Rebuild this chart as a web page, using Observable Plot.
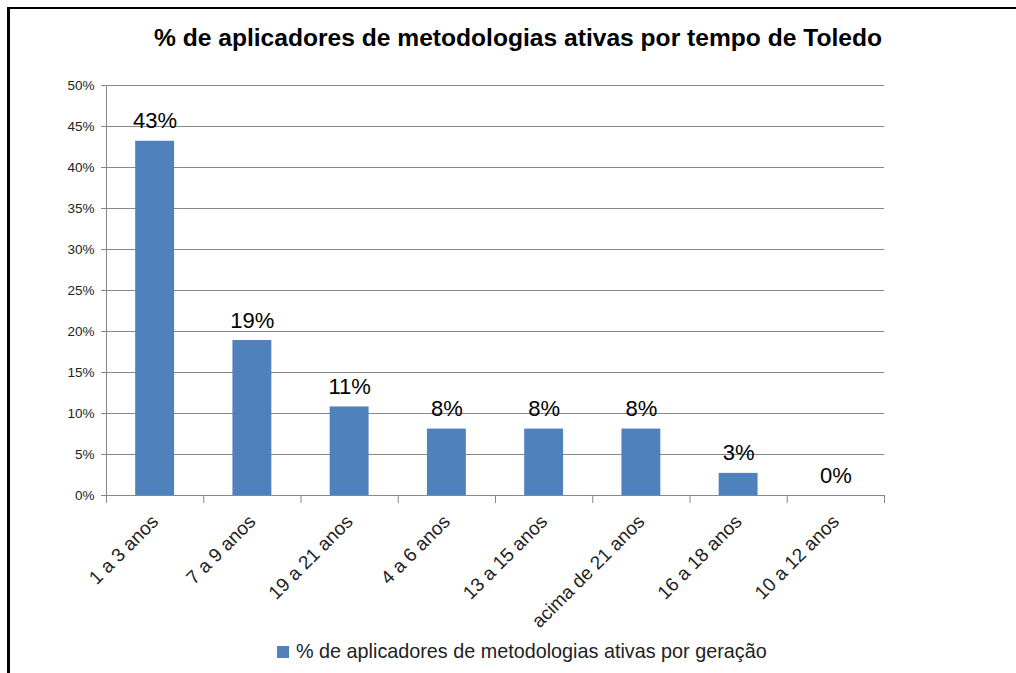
<!DOCTYPE html>
<html>
<head>
<meta charset="utf-8">
<script src="https://cdn.jsdelivr.net/npm/d3@7"></script>
<script src="https://cdn.jsdelivr.net/npm/@observablehq/plot@0.6"></script>
<style>
  html, body { margin: 0; padding: 0; background: #fff; }
  #wrap { position: relative; width: 1016px; height: 673px; overflow: hidden; font-family: "Liberation Sans", Arial, sans-serif; }
  #frame { position: absolute; left: 7px; top: 7px; width: 1020px; height: 700px; border-left: 3px solid #000; border-top: 2px solid #000; }
  #title { position: absolute; left: 0; width: 1016px; top: 24px; text-align: center; font-size: 24.6px; font-weight: bold; color: #000; padding-left: 20px; box-sizing: border-box; }
  #chart { position: absolute; left: 0; top: 70px; }
  #legend { position: absolute; left: 277px; top: 640px; display: flex; align-items: center; font-size: 19.8px; color: #222; }
  #legend .sw { width: 12px; height: 12px; background: #4f81bd; margin-right: 7px; }
</style>
</head>
<body>
<div id="wrap">
  <div id="frame"></div>
  <div id="title">% de aplicadores de metodologias ativas por tempo de Toledo</div>
  <div id="chart"></div>
  <div id="legend"><div class="sw"></div><span id="legtext"></span></div>
</div>
<script>
const categories = ["1 a 3 anos", "7 a 9 anos", "19 a 21 anos", "4 a 6 anos", "13 a 15 anos", "acima de 21 anos", "16 a 18 anos", "10 a 12 anos"];
const values = [43.2, 18.9, 10.8, 8.1, 8.1, 8.1, 2.7, 0];
const valueLabels = ["43%", "19%", "11%", "8%", "8%", "8%", "3%", "0%"];
const yTicks = [0, 5, 10, 15, 20, 25, 30, 35, 40, 45, 50];
const seriesName = "% de aplicadores de metodologias ativas por geração";

document.getElementById("legtext").textContent = seriesName;

const data = categories.map((c, i) => ({c, i, v: values[i], label: valueLabels[i]}));
const grid = "#888888";

const chart = Plot.plot({
  width: 1016,
  height: 570,
  marginLeft: 106,
  marginRight: 132,
  marginTop: 15,
  marginBottom: 145,
  style: {fontFamily: "Liberation Sans, Arial, sans-serif", background: "transparent", overflow: "visible"},
  x: {domain: [0, categories.length], axis: null},
  y: {domain: [0, 50], axis: null},
  marks: [
    Plot.ruleY(yTicks, {stroke: grid, strokeWidth: 1}),
    Plot.ruleX([0], {stroke: grid, strokeWidth: 1}),
    Plot.axisY({ticks: yTicks, tickFormat: d => d + "%", tickSize: 5, tickPadding: 7, stroke: grid, fill: "#222", fontSize: 13.5, label: null}),
    Plot.axisX({ticks: d3.range(categories.length + 1), tickFormat: () => "", tickSize: 8, stroke: grid, label: null}),
    Plot.axisX({ticks: d3.range(categories.length).map(i => i + 0.5), tickFormat: t => categories[Math.floor(t)], tickSize: 0, tickPadding: 23, tickRotate: -45, fill: "#222", fontSize: 19, label: null}),
    Plot.rectY(data, {x1: d => d.i + 0.3, x2: d => d.i + 0.7, y: "v", fill: "#4f81bd"}),
    Plot.text(data, {x: d => d.i + 0.5, y: "v", text: "label", lineAnchor: "bottom", dy: -13, fontSize: 22, fill: "#000"})
  ]
});
document.getElementById("chart").appendChild(chart);
</script>
</body>
</html>
